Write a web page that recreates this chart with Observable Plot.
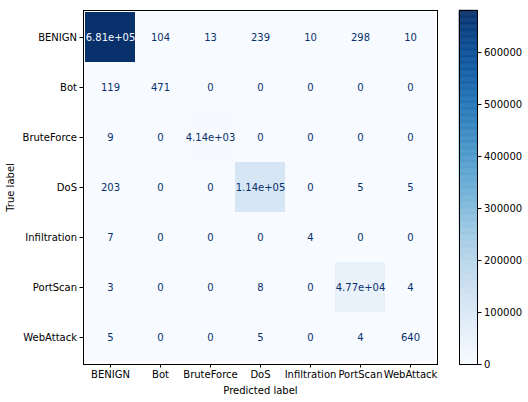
<!DOCTYPE html>
<html>
<head>
<meta charset="utf-8">
<script src="https://cdn.jsdelivr.net/npm/d3@7"></script>
<script src="https://cdn.jsdelivr.net/npm/@observablehq/plot@0.6"></script>
<style>
  body { margin: 0; background: white; }
  #wrap { position: relative; width: 528px; height: 402px; }
  #wrap svg { position: absolute; top: 0; }
</style>
</head>
<body>
<div id="wrap"></div>
<script>
const classes = ["BENIGN", "Bot", "BruteForce", "DoS", "Infiltration", "PortScan", "WebAttack"];
const counts = [
  [681000, 104, 13, 239, 10, 298, 10],
  [119, 471, 0, 0, 0, 0, 0],
  [9, 0, 4140, 0, 0, 0, 0],
  [203, 0, 0, 114000, 0, 5, 5],
  [7, 0, 0, 0, 4, 0, 0],
  [3, 0, 0, 8, 0, 47700, 4],
  [5, 0, 0, 5, 0, 4, 640]
];
const colorTicks = [0, 100000, 200000, 300000, 400000, 500000, 600000];

const cells = [];
counts.forEach((row, i) => row.forEach((v, j) => cells.push({truth: classes[i], pred: classes[j], value: v})));
const vmax = d3.max(cells, d => d.value);
const vmin = d3.min(cells, d => d.value);

function fmt(v) {
  // python ".3g"-like
  if (v >= 1000) {
    const [m, e] = v.toExponential(2).split("e");
    const sign = e[0];
    const digits = e.slice(1).padStart(2, "0");
    return m + "e" + sign + digits;
  }
  return String(v);
}

const font = "DejaVu Sans, sans-serif";

const main = Plot.plot({
  width: 528,
  height: 402,
  marginLeft: 83,
  marginRight: 91,
  marginTop: 10,
  marginBottom: 38,
  style: {fontFamily: font, fontSize: "10px", background: "white", color: "#000"},
  x: {domain: classes, padding: 0},
  y: {domain: classes, padding: 0},
  color: {type: "linear", scheme: "blues", domain: [0, vmax]},
  marks: [
    Plot.cell(cells, {x: "pred", y: "truth", fill: "value"}),
    Plot.text(cells, {
      x: "pred", y: "truth", text: d => fmt(d.value),
      fill: d => d.value > (vmax + vmin) / 2 ? "#f7fbff" : "#08306b",
      fontSize: 10
    }),
    Plot.frame({stroke: "#000", strokeWidth: 1}),
    Plot.axisX({tickSize: 3.5, tickPadding: 3, label: "Predicted label", labelAnchor: "center", labelArrow: "none", labelOffset: 29, fontSize: 10}),
    Plot.axisY({tickSize: 3.5, tickPadding: 3, label: "True label", labelAnchor: "center", labelArrow: "none", labelOffset: 77, fontSize: 10})
  ]
});
main.style.left = "0px";
document.getElementById("wrap").appendChild(main);

const N = 300;
const steps = d3.range(N);
const bar = Plot.plot({
  width: 78,
  height: 402,
  marginLeft: 9,
  marginRight: 51,
  marginTop: 10,
  marginBottom: 38,
  style: {fontFamily: font, fontSize: "10px", background: "transparent", color: "#000"},
  x: {domain: [0, 1], axis: null},
  y: {domain: [0, vmax]},
  color: {type: "linear", scheme: "blues", domain: [0, vmax]},
  marks: [
    Plot.rect(steps, {
      x1: 0, x2: 1,
      y1: d => d * vmax / N, y2: d => (d + 1) * vmax / N,
      fill: d => (d + 0.5) * vmax / N,
      stroke: d => (d + 0.5) * vmax / N,
      strokeWidth: 0.5
    }),
    Plot.frame({stroke: "#000", strokeWidth: 1}),
    Plot.axisY({anchor: "right", ticks: colorTicks, tickFormat: d => String(d), tickSize: 3.5, tickPadding: 3, label: null, fontSize: 10})
  ]
});
bar.style.left = "450px";
document.getElementById("wrap").appendChild(bar);
</script>
</body>
</html>
